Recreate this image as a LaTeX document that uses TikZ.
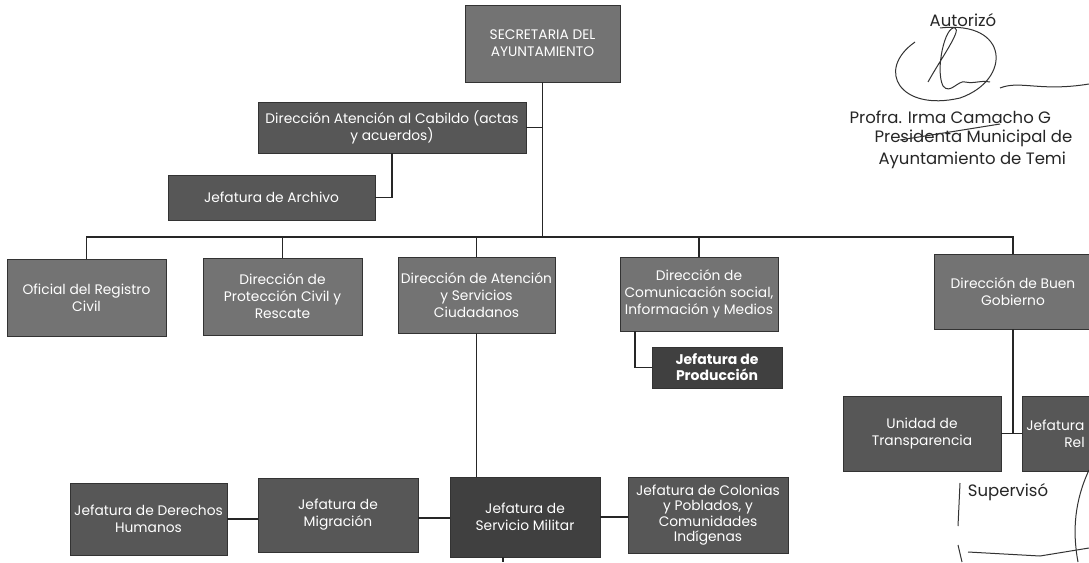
\documentclass[tikz,border=0pt]{standalone}
\usepackage{fontspec}
\setmainfont{Poppins}
\usetikzlibrary{calc}

\begin{document}
\begin{tikzpicture}[
	x=1pt, y=-1pt,
	font=\fontsize{13.8}{17}\selectfont,
	caja/.style={
		draw=black!80,
		line width=0.6pt,
		text=white,
		align=center,
		inner sep=2pt,
	},
	rejilla/.style={caja, fill=black!55},
	puntos/.style={caja, fill=black!66},
	oscuro/.style={caja, fill=black!75},
	linea/.style={line width=1.3pt, black!85},
	firma/.style={line width=1pt, black!80},
	texto/.style={text=black!85, font=\fontsize{16.5}{19}\selectfont},
]
\useasboundingbox[fill=white] (0,0) rectangle (1089,562);

% cabeza
\node[rejilla, minimum width=155, minimum height=77] (sec) at (542.5,43.5) {SECRETARIA DEL\\AYUNTAMIENTO};
\node[puntos, minimum width=268, minimum height=51] (cab) at (392,127.5) {Dirección Atención al Cabildo (actas\\y acuerdos)};
\node[puntos, minimum width=207, minimum height=45] (arch) at (271.5,197.5) {Jefatura de Archivo};

% direcciones
\node[rejilla, minimum width=159, minimum height=77] (ofi) at (86.5,297.5) {Oficial del Registro\\Civil};
\node[rejilla, minimum width=159, minimum height=77] (prot) at (282.5,296.5) {Dirección de\\Protección Civil y\\Rescate};
\node[rejilla, minimum width=157, minimum height=76] (aten) at (476.5,295) {Dirección de Atención\\y Servicios\\Ciudadanos};
\node[rejilla, minimum width=158, minimum height=74] (com) at (699,294) {Dirección de\\Comunicación social,\\Información y Medios};
\node[rejilla, minimum width=158, minimum height=75] (buen) at (1013,291.5) {Dirección de Buen\\Gobierno};

% jefaturas
\node[oscuro, minimum width=130, minimum height=41, font=\fontsize{14}{16}\selectfont\bfseries] (prod) at (717,367.5) {Jefatura de\\Producción};
\node[puntos, minimum width=158, minimum height=75] (uni) at (922,433.5) {Unidad de\\Transparencia};
\node[puntos, anchor=west, text width=150, minimum height=75, align=left, inner sep=4pt] (rel) at (1022,433.5) {Jefatura\\\hspace*{38pt}Rel};
\node[puntos, minimum width=157, minimum height=72] (der) at (148.5,519) {Jefatura de Derechos\\Humanos};
\node[puntos, minimum width=160, minimum height=74] (mig) at (338,515) {Jefatura de\\Migración};
\node[oscuro, minimum width=150, minimum height=80] (mil) at (525,517) {Jefatura de\\Servicio Militar};
\node[puntos, minimum width=160, minimum height=76, font=\fontsize{13.8}{15.5}\selectfont] (col) at (708,515) {Jefatura de Colonias\\y Poblados, y\\Comunidades\\Indígenas};

% lineas
\coordinate (bus) at (543,237);
\coordinate (fin) at (503,562);
\draw[linea] (sec.south) -- (sec.south |- bus);
\draw[linea] (cab.east) -- (cab.east -| sec.south);
\draw[linea] (arch.east) -| (cab.south);
\draw[linea] (ofi.north) |- (bus) -| (buen.north);
\draw[linea] (prot.north) -- (prot.north |- bus);
\draw[linea] (aten.north) -- (aten.north |- bus);
\draw[linea] (com.north) -- (com.north |- bus);
\draw[linea] ([xshift=-64pt]com.south) |- (prod.west);
\draw[linea] (aten.south) -- (aten.south |- mil.north);
\draw[linea] (buen.south) -- (buen.south |- uni.east);
\draw[linea] (uni.east) -- (rel.west);
\draw[linea] (der.east) -- (der.east -| mig.west);
\draw[linea] ([yshift=-3pt]mig.east) -- ([yshift=-3pt]mig.east -| mil.west);
\draw[linea] (mil.east) -- (mil.east -| col.west);
\draw[linea] (mil.south -| fin) -- (fin);

% firmas
\node[texto] (aut) at (963,20) {Autorizó};
\node[texto, anchor=west] (pro) at (846,117) {Profra. Irma Camacho G};
\node[texto, anchor=west] (pre) at (871,138) {Presidenta Municipal de};
\node[texto, anchor=west] (ayu) at (875,160) {Ayuntamiento de Temi};
\node[texto] (sup) at (1008,492) {Supervisó};
\draw[firma] (940,28) .. controls (1010,20) and (1012,80) .. (960,98)
	.. controls (900,112) and (875,70) .. (915,42);
\draw[firma] (928,82) .. controls (940,60) and (962,30) .. (955,28)
	.. controls (945,25) and (935,70) .. (943,86)
	.. controls (950,95) and (958,80) .. (965,82)
	.. controls (975,84) and (980,80) .. (990,82);
\draw[firma] (1000,88) .. controls (1020,80) and (1040,92) .. (1089,84);
\draw[firma] (900,140) -- (1000,124);
\draw[firma] (960,483) -- (958,526);
\draw[firma] (958,545) -- (962,562);
\draw[firma] (968,552) -- (1040,556) -- (1089,548);
\draw[firma] (1089,470) .. controls (1075,500) and (1072,530) .. (1078,562);
\end{tikzpicture}
\end{document}
